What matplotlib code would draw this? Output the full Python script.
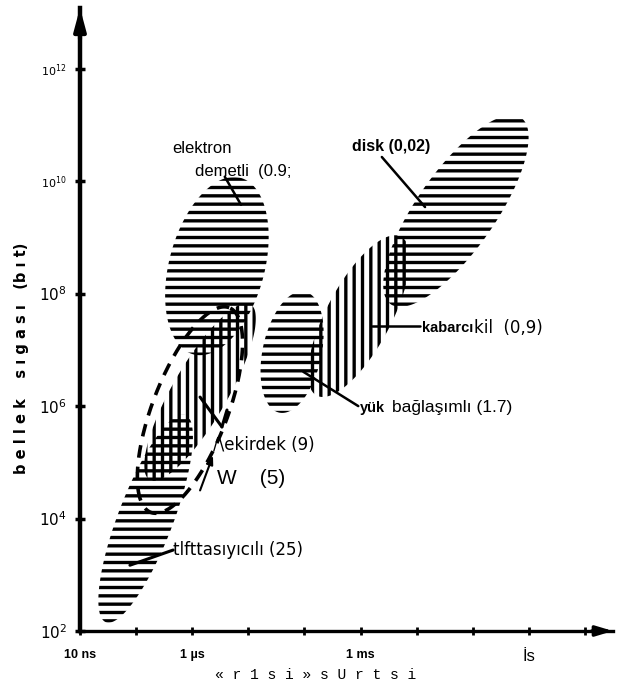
import numpy as np
import matplotlib
matplotlib.use('Agg')
import matplotlib.pyplot as plt
from matplotlib.ticker import NullLocator

plt.rcParams['hatch.linewidth'] = 2.4
plt.rcParams['font.family'] = ['Liberation Sans', 'DejaVu Sans']

# ---------------- data (log10 units) ----------------
region_names = ["elektron demetli", "tel taşıyıcılı", "çekirdek", "MOS",
                "yük bağlaşımlı", "kabarcık", "disk"]
region_logx = [-5.56, -6.83, -5.86, -6.04, -4.22, -3.03, -1.30]   # log10 erişim süresi (s)
region_logy = [8.49, 4.00, 6.25, 5.93, 6.96, 7.60, 9.47]          # log10 bellek sığası (bit)
region_major = [3.25, 3.95, 3.60, 3.90, 2.20, 3.20, 4.05]         # decades
region_minor = [1.70, 0.98, 0.98, 1.34, 1.05, 1.15, 1.40]         # decades
region_angle = [75, 69, 60, 69, 78, 62, 55]                       # degrees
region_hatch = ['--', '--', '||', None, '--', '||', '--']

x_ticks_log = [-8, -7, -6, -5, -4, -3, -2, -1, 0, 1]
x_tick_labels = ['10 ns', '', '1 µs', '', '', '1 ms', '', '', 'İs', '']
y_ticks_log = [2, 4, 6, 8, 10, 12]
y_tick_labels = ['$10^{2}$', '$10^{4}$', '$10^{6}$', '$10^{8}$', '$10^{10}$', '$10^{12}$']

x_label = "« r 1 s i » s U r t s i"
y_label = "b e l l e k    s ı g a s ı   (b ı t)"

# ---------------- figure ----------------
fig = plt.figure(figsize=(6.18, 6.9), dpi=100)
ax = fig.add_axes([80 / 618, 59 / 690, 533 / 618, 623 / 690])
ax.set_xscale('log')
ax.set_yscale('log')
ax.set_xlim(1e-8, 10 ** 1.5)
ax.set_ylim(1e2, 10 ** 13.08)


def ellipse_pts(cx, cy, major, minor, ang, n=300):
    t = np.linspace(0, 2 * np.pi, n)
    a, b = major / 2, minor / 2
    th = np.deg2rad(ang)
    x = cx + a * np.cos(t) * np.cos(th) - b * np.sin(t) * np.sin(th)
    y = cy + a * np.cos(t) * np.sin(th) + b * np.sin(t) * np.cos(th)
    return 10 ** x, 10 ** y


for cx, cy, ma, mi, an, h in zip(region_logx, region_logy, region_major,
                                 region_minor, region_angle, region_hatch):
    xs, ys = ellipse_pts(cx, cy, ma, mi, an)
    if h is None:
        ax.plot(xs, ys, color='black', lw=2.6, ls=(0, (3.5, 2.5)))
    else:
        ax.fill(xs, ys, facecolor='none', edgecolor='black', hatch=h, linewidth=0)


def P(lx, ly):
    return 10 ** lx, 10 ** ly


def pointer(p0, p1, lw=1.8):
    ax.plot([10 ** p0[0], 10 ** p1[0]], [10 ** p0[1], 10 ** p1[1]], color='black', lw=lw,
            solid_capstyle='round')


# labels
ax.text(*P(-6.36, 10.59), "elektron", fontsize=12, ha='left', va='center')
ax.text(*P(-5.95, 10.17), "demetli  (0.9;", fontsize=12, ha='left', va='center')
pointer((-5.42, 10.08), (-5.13, 9.58))

ax.text(*P(-3.15, 10.61), "disk (0,02)", fontsize=11.5, fontweight='bold', ha='left', va='center')
pointer((-2.62, 10.43), (-1.85, 9.54))

ax.text(*P(-1.90, 7.39), "kabarcı", fontsize=10.5, fontweight='bold', ha='left', va='center')
ax.text(*P(-0.98, 7.39), "kil  (0,9)", fontsize=12, ha='left', va='center', family='DejaVu Sans')
pointer((-2.80, 7.43), (-1.94, 7.43))

ax.text(*P(-3.01, 5.97), "yük", fontsize=10.5, fontweight='bold', ha='left', va='center')
ax.text(*P(-2.44, 5.97), "bağlaşımlı (1.7)", fontsize=12.5, ha='left', va='center')
pointer((-4.02, 6.61), (-3.04, 6.00))

ax.text(*P(-5.63, 5.31), "/\\ekirdek (9)", fontsize=12, ha='left', va='center', family='DejaVu Sans')
pointer((-5.86, 6.16), (-5.47, 5.63), lw=2.2)
pointer((-5.47, 5.63), (-5.38, 5.93), lw=2.2)

ax.text(*P(-5.56, 4.72), "W    (5)", fontsize=15, ha='left', va='center')
ax.annotate('', xy=P(-5.63, 5.12), xytext=P(-5.86, 4.50),
            arrowprops=dict(arrowstyle='-|>,head_width=0.2,head_length=0.5', lw=1.5, color='black',
                            shrinkA=0, shrinkB=0))

ax.text(*P(-6.34, 3.44), "tlfttasıyıcılı (25)", fontsize=12, ha='left', va='center',
        family='DejaVu Sans')
pointer((-7.11, 3.17), (-6.34, 3.44), lw=2.2)

# axes styling
for s in ['top', 'right']:
    ax.spines[s].set_visible(False)
ax.spines['left'].set_linewidth(3.2)
ax.spines['bottom'].set_linewidth(2.4)
ax.annotate('', xy=(0, 1.0), xycoords='axes fraction', xytext=(0, 0.95),
            arrowprops=dict(arrowstyle='-|>,head_width=0.35,head_length=1.3', lw=3, color='black',
                            shrinkA=0, shrinkB=0))
ax.annotate('', xy=(1.0, 0), xycoords='axes fraction', xytext=(0.96, 0),
            arrowprops=dict(arrowstyle='-|>,head_width=0.3,head_length=1.0', lw=2.4, color='black',
                            shrinkA=0, shrinkB=0))

ax.set_xticks([10.0 ** v for v in x_ticks_log])
ax.set_xticklabels(x_tick_labels)
ax.set_yticks([10.0 ** v for v in y_ticks_log])
ax.set_yticklabels(y_tick_labels)
ax.xaxis.set_minor_locator(NullLocator())
ax.yaxis.set_minor_locator(NullLocator())
ax.tick_params(axis='x', direction='inout', length=6, width=2, pad=10)
ax.tick_params(axis='y', direction='inout', length=7, width=2.5, pad=6)

for lab in ax.get_xticklabels():
    t = lab.get_text()
    if t == 'İs':
        lab.set_fontsize(12)
    else:
        lab.set_fontsize(9)
        lab.set_fontweight('bold')
for lab in ax.get_yticklabels():
    t = lab.get_text()
    if '12' in t or '10}' in t:
        lab.set_fontsize(8)
    else:
        lab.set_fontsize(11)

fig.text(316 / 618, 1 - 675 / 690, x_label, family='Liberation Mono', fontsize=10.5,
         ha='center', va='center')
fig.text(22 / 618, 1 - 358 / 690, y_label, family='DejaVu Sans', fontweight='bold', fontsize=10.5,
         rotation=90, ha='center', va='center')

fig.savefig('out.png', dpi=100)
